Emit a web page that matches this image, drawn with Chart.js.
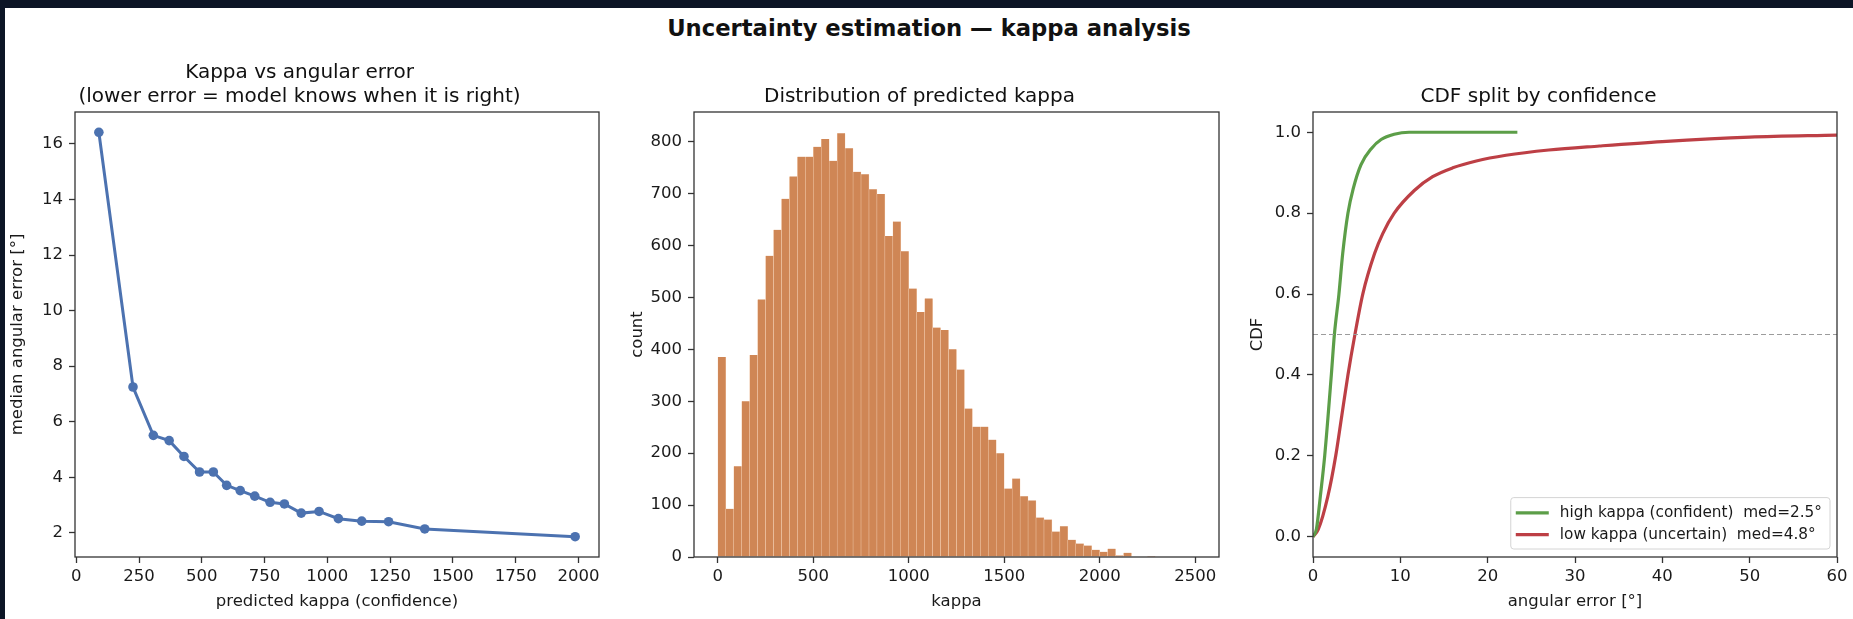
<!DOCTYPE html>
<html>
<head>
<meta charset="utf-8">
<title>Uncertainty estimation — kappa analysis</title>
<script src="https://cdn.jsdelivr.net/npm/chart.js@4.4.1/dist/chart.umd.min.js"></script>
<style>
  html, body { margin: 0; padding: 0; }
  body { width: 1853px; height: 619px; background: #0c1526; position: relative; overflow: hidden; }
  #fig { position: absolute; left: 5px; top: 8px; right: 0; bottom: 0; background: #fff; }
  #suptitle {
    position: absolute; left: 5px; top: 14px; width: 1848px; text-align: center;
    font: bold 22.7px/28px "DejaVu Sans", sans-serif; color: #111;
  }
  canvas { position: absolute; top: 0; }
</style>
</head>
<body>
<div id="fig"></div>
<div id="suptitle">Uncertainty estimation — kappa analysis</div>
<canvas id="kappa-error" width="620" height="619" style="left:0"></canvas>
<canvas id="kappa-hist" width="620" height="619" style="left:620px"></canvas>
<canvas id="kappa-cdf" width="613" height="619" style="left:1240px"></canvas>
<script>
// panel 1: median angular error per kappa bin
const kappaBins = [90, 226, 307, 370, 429, 491, 546, 599, 653, 711, 772, 829, 896, 967, 1044, 1137, 1244, 1388, 1987];
const medianError = [16.42, 7.25, 5.51, 5.32, 4.75, 4.19, 4.19, 3.71, 3.52, 3.32, 3.10, 3.04, 2.71, 2.77, 2.51, 2.42, 2.40, 2.14, 1.86];

// panel 2: histogram of predicted kappa (60 bins from 0 to 2500)
const histStart = 0;
const histBinWidth = 2500 / 60;
const histCounts = [385, 93, 175, 300, 389, 496, 580, 630, 690, 733, 771, 771, 790, 805, 763, 816, 787, 742, 737, 708,
                    699, 618, 646, 589, 517, 472, 498, 442, 437, 400, 361, 286, 251, 251, 226, 200, 132, 151, 117, 109,
                    76, 72, 49, 59, 33, 26, 22, 14, 10, 16, 3, 8, 1, 0, 2, 0, 0, 0, 0, 0];

// panel 3: CDF of angular error, split by confidence
const highErr = [0, 0.4, 0.84, 1.34, 2.1, 2.45, 2.97, 3.4, 4.0, 4.6, 5.5, 6.7, 7.8, 9.3, 11, 23.4];
const highCdf = [0, 0.02, 0.1, 0.2, 0.4, 0.5, 0.6, 0.7, 0.8, 0.86, 0.92, 0.96, 0.982, 0.995, 1.0, 1.0];
const lowErr = [0, 0.6, 1.7, 2.6, 3.3, 4.0, 4.8, 5.7, 7.05, 8.0, 9.3, 11.6, 13.7, 16, 18.7, 22.1, 27, 32.8, 40, 50, 60];
const lowCdf = [0, 0.018, 0.1, 0.2, 0.3, 0.4, 0.5, 0.6, 0.7, 0.75, 0.8, 0.856, 0.89, 0.912, 0.929, 0.943, 0.956, 0.966, 0.977, 0.988, 0.993];
const medianLine = 0.5;

// tick labels
const p1XTicks = [0, 250, 500, 750, 1000, 1250, 1500, 1750, 2000];
const p1YTicks = [2, 4, 6, 8, 10, 12, 14, 16];
const p2XTicks = [0, 500, 1000, 1500, 2000, 2500];
const p2YTicks = [0, 100, 200, 300, 400, 500, 600, 700, 800];
const p3XTicks = [0, 10, 20, 30, 40, 50, 60];
const p3YTicks = [0, 0.2, 0.4, 0.6, 0.8, 1.0];

Chart.defaults.font.family = '"DejaVu Sans", sans-serif';
Chart.defaults.font.size = 16.5;
Chart.defaults.color = '#1a1a1a';

const INK = '#333';

// matplotlib style box around the axes
const spines = {
  id: 'spines',
  afterDatasetsDraw(chart) {
    const {ctx, chartArea: a} = chart;
    ctx.save();
    ctx.strokeStyle = INK;
    ctx.lineWidth = 1.3;
    ctx.strokeRect(a.left, a.top, a.right - a.left, a.bottom - a.top);
    ctx.restore();
  }
};

// legend in the lower right corner of the plot area
const cornerLegend = {
  id: 'cornerLegend',
  afterDraw(chart) {
    const {ctx, chartArea: a} = chart;
    const sets = chart.data.datasets.filter(d => d.label);
    ctx.save();
    ctx.font = '15.3px "DejaVu Sans"';
    const textW = Math.max(...sets.map(d => ctx.measureText(d.label).width));
    const rowH = 21.7, pad = 5, swatch = 33, gap = 11;
    const w = pad + swatch + gap + textW + 8;
    const h = sets.length * rowH + 8;
    const x = a.right - 7 - w, y = a.bottom - 8 - h;
    ctx.fillStyle = 'rgba(255,255,255,0.8)';
    ctx.strokeStyle = '#d4d4d4';
    ctx.lineWidth = 1;
    ctx.beginPath();
    ctx.roundRect(x, y, w, h, 3);
    ctx.fill();
    ctx.stroke();
    sets.forEach((d, i) => {
      const cy = y + 4.5 + rowH * (i + 0.5);
      ctx.strokeStyle = d.borderColor;
      ctx.lineWidth = 3.2;
      ctx.beginPath();
      ctx.moveTo(x + pad, cy);
      ctx.lineTo(x + pad + swatch, cy);
      ctx.stroke();
      ctx.fillStyle = '#1a1a1a';
      ctx.textBaseline = 'middle';
      ctx.fillText(d.label, x + pad + swatch + gap, cy);
    });
    ctx.restore();
  }
};

function axis(min, max, ticks, title, fmt, horizontal, size) {
  return {
    type: 'linear',
    min: min,
    max: max,
    offset: false,
    afterBuildTicks: s => { s.ticks = ticks.map(v => ({value: v})); },
    afterFit: s => { if (horizontal) s.height = size; else s.width = size; },
    grid: {drawOnChartArea: false, drawTicks: true, tickLength: 6, tickWidth: 1.3, color: INK, offset: false},
    border: {display: false},
    ticks: {autoSkip: false, maxRotation: 0, padding: horizontal ? 4 : 6, callback: fmt},
    title: {display: true, text: title, padding: horizontal ? {top: 0, bottom: 7.5} : {top: 8, bottom: 0}}
  };
}

function baseOptions(o) {
  return {
    responsive: false,
    devicePixelRatio: 1,
    animation: false,
    events: [],
    layout: {padding: {left: 0, right: o.padRight, top: 0, bottom: 0}},
    plugins: {
      legend: {display: false},
      tooltip: {enabled: false},
      title: {
        display: true,
        text: o.title,
        color: '#111',
        font: {size: 20, weight: 'normal', lineHeight: '24px'},
        padding: {top: o.titleTop, bottom: 3}
      }
    },
    scales: {
      x: axis(o.xMin, o.xMax, o.xTicks, o.xTitle, o.xFmt || (v => String(v)), true, 62),
      y: axis(o.yMin, o.yMax, o.yTicks, o.yTitle, o.yFmt || (v => String(v)), false, o.yWidth)
    }
  };
}

new Chart(document.getElementById('kappa-error'), {
  type: 'line',
  data: {
    datasets: [{
      data: kappaBins.map((k, i) => ({x: k, y: medianError[i]})),
      borderColor: '#4c72b0',
      backgroundColor: '#4c72b0',
      borderWidth: 3,
      pointRadius: 4.8,
      pointBorderWidth: 0,
      tension: 0
    }]
  },
  options: baseOptions({
    title: ['Kappa vs angular error', '(lower error = model knows when it is right)'],
    titleTop: 61, padRight: 21, yWidth: 75,
    xMin: -5, xMax: 2082, xTicks: p1XTicks, xTitle: 'predicted kappa (confidence)',
    yMin: 1.13, yMax: 17.15, yTicks: p1YTicks, yTitle: 'median angular error [°]'
  }),
  plugins: [spines]
});

new Chart(document.getElementById('kappa-hist'), {
  type: 'bar',
  data: {
    datasets: [{
      data: histCounts.map((c, i) => ({x: histStart + (i + 0.5) * histBinWidth, y: c})),
      backgroundColor: '#cf8655',
      borderColor: '#f6d2b6',
      borderWidth: {left: 0.5, right: 0.5, top: 0, bottom: 0},
      borderSkipped: false,
      barPercentage: 1,
      categoryPercentage: 1
    }]
  },
  options: baseOptions({
    title: 'Distribution of predicted kappa',
    titleTop: 85, padRight: 21, yWidth: 74,
    xMin: -125, xMax: 2625, xTicks: p2XTicks, xTitle: 'kappa',
    yMin: 0, yMax: 857, yTicks: p2YTicks, yTitle: 'count'
  }),
  plugins: [spines]
});

new Chart(document.getElementById('kappa-cdf'), {
  type: 'line',
  data: {
    datasets: [
      {
        label: null,
        data: [{x: 0, y: medianLine}, {x: 60, y: medianLine}],
        borderColor: '#9c9c9c',
        borderWidth: 1.2,
        borderDash: [5, 3],
        pointRadius: 0
      },
      {
        label: 'high kappa (confident)  med=2.5°',
        data: highErr.map((e, i) => ({x: e, y: highCdf[i]})),
        borderColor: '#5c9e48',
        borderWidth: 3.2,
        pointRadius: 0,
        cubicInterpolationMode: 'monotone'
      },
      {
        label: 'low kappa (uncertain)  med=4.8°',
        data: lowErr.map((e, i) => ({x: e, y: lowCdf[i]})),
        borderColor: '#bd3f45',
        borderWidth: 3.2,
        pointRadius: 0,
        cubicInterpolationMode: 'monotone'
      }
    ]
  },
  options: baseOptions({
    title: 'CDF split by confidence',
    titleTop: 85, padRight: 16, yWidth: 73,
    xMin: 0, xMax: 60, xTicks: p3XTicks, xTitle: 'angular error [°]',
    yMin: -0.05, yMax: 1.05, yTicks: p3YTicks, yTitle: 'CDF', yFmt: v => v.toFixed(1)
  }),
  plugins: [spines, cornerLegend]
});
</script>
</body>
</html>
